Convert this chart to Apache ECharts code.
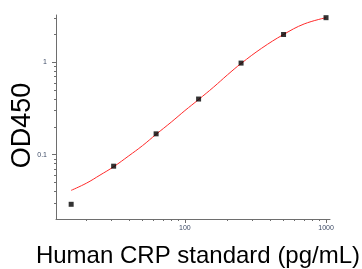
<!DOCTYPE html>
<html>
<head>
<meta charset="UTF-8">
<title>Human CRP standard curve</title>
<script src="https://cdn.jsdelivr.net/npm/echarts@6/dist/echarts.min.js"></script>
<style>
  html, body { margin: 0; padding: 0; background: #fff; }
  #chart { width: 362px; height: 269px; }
</style>
</head>
<body>
<div id="chart"></div>
<script>
// standards
var stdConc = [15.625, 31.25, 62.5, 125, 250, 500, 1000];
var stdOD   = [0.029, 0.075, 0.168, 0.40, 0.98, 2.0, 3.04];

// fitted curve, points
var fitConc = [15.6, 20, 25, 31.25, 40, 50, 62.5, 80, 100, 125, 160, 200, 250, 350, 500, 700, 1000];
var fitOD   = [0.041, 0.049, 0.060, 0.074, 0.097, 0.125, 0.166, 0.225, 0.30, 0.395, 0.54, 0.73, 0.97, 1.42, 2.0, 2.6, 3.04];

// tick values
var xMajor = [100, 1000];
var xMinor = [20, 30, 40, 50, 60, 70, 80, 90, 200, 300, 400, 500, 600, 700, 800, 900];
var yMajor = [0.1, 1];
var yMinor = [0.03, 0.04, 0.05, 0.06, 0.07, 0.08, 0.09, 0.2, 0.3, 0.4, 0.5, 0.6, 0.7, 0.8, 0.9, 2, 3];

var xMin = 12.2, xMax = 1067;
var yMin = 0.0201, yMax = 3.25;

function pairs(a, b) {
  var out = [];
  for (var i = 0; i < a.length; i++) out.push([a[i], b[i]]);
  return out;
}

var axisCol = '#6e6e6e';
var font = '"Liberation Sans", Arial, sans-serif';

var chart = echarts.init(document.getElementById('chart'));
chart.setOption({
  animation: false,
  grid: { left: 56, right: 32, top: 15, bottom: 50, outerBoundsMode: 'none', containLabel: false },
  xAxis: [
    {
      type: 'log', min: xMin, max: xMax,
      name: 'Human CRP standard (pg/mL)',
      nameLocation: 'middle', nameGap: 25,
      nameTextStyle: { fontFamily: font, fontSize: 24, color: '#000', padding: [0, 0, 0, 10] },
      axisLine: { show: true, lineStyle: { color: axisCol, width: 1 } },
      axisTick: { show: true, length: 4, customValues: xMajor, lineStyle: { color: axisCol } },
      axisLabel: {
        customValues: xMajor, margin: 6, fontSize: 7, fontFamily: font, color: '#3d4b66',
        formatter: function (v) { return String(Math.round(v)); }
      },
      splitLine: { show: false }
    },
    {
      type: 'log', min: xMin, max: xMax, position: 'bottom',
      axisLine: { show: false },
      axisTick: { show: true, length: 2, customValues: xMinor, lineStyle: { color: axisCol } },
      axisLabel: { show: false },
      splitLine: { show: false }
    }
  ],
  yAxis: [
    {
      type: 'log', min: yMin, max: yMax,
      name: 'OD450',
      nameLocation: 'middle', nameGap: 20, nameMoveOverlap: false,
      nameTextStyle: { fontFamily: font, fontSize: 27, color: '#000', padding: [0, 17, 0, 0] },
      axisLine: { show: true, lineStyle: { color: axisCol, width: 1 } },
      axisTick: { show: true, length: 4, customValues: yMajor, lineStyle: { color: axisCol } },
      axisLabel: {
        customValues: yMajor, margin: 9, fontSize: 7, fontFamily: font, color: '#3d4b66',
        formatter: function (v) { return v >= 1 ? String(Math.round(v)) : String(+v.toFixed(2)); }
      },
      splitLine: { show: false }
    },
    {
      type: 'log', min: yMin, max: yMax, position: 'left',
      axisLine: { show: false },
      axisTick: { show: true, length: 2, customValues: yMinor, lineStyle: { color: axisCol } },
      axisLabel: { show: false },
      splitLine: { show: false }
    }
  ],
  series: [
    {
      type: 'line', name: 'fit',
      data: pairs(fitConc, fitOD),
      smooth: 0.4, showSymbol: false,
      lineStyle: { color: '#ff2a2a', width: 1 },
      z: 2
    },
    {
      type: 'scatter', name: 'standards',
      data: pairs(stdConc, stdOD),
      symbol: 'rect', symbolSize: 5,
      itemStyle: { color: '#000' },
      z: 3
    }
  ]
});
</script>
</body>
</html>
